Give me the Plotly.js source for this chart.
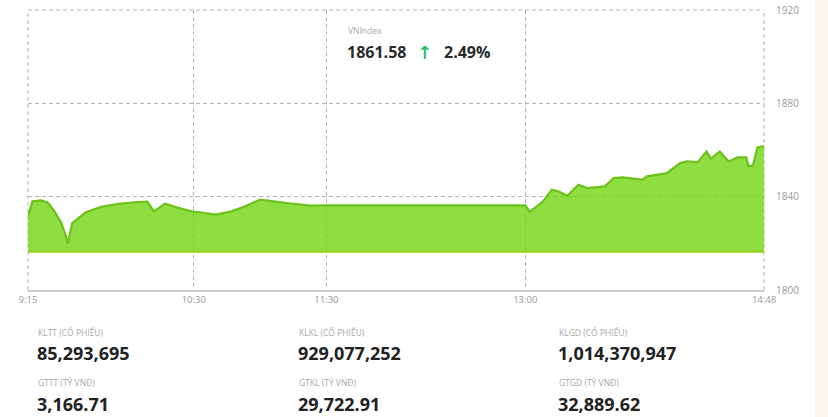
<!DOCTYPE html>
<html>
<head>
<meta charset="utf-8">
<script src="https://cdn.plot.ly/plotly-3.0.1.min.js"></script>
<style>
  html, body { margin: 0; padding: 0; background: #ffffff; }
  #chart { width: 828px; height: 417px; }
</style>
</head>
<body>
<div id="chart"></div>
<script>
// ---- data ----
const sessionDate = '2025-10-10';
const times = ['09:15','09:17','09:21','09:24','09:27','09:30','09:32','09:33','09:35','09:41',
               '09:48','09:56','10:03','10:09','10:12','10:17','10:23','10:29','10:35','10:40',
               '10:47','10:53','11:00','11:05','11:14','11:23','11:30','13:00','13:02','13:08',
               '13:12','13:15','13:19','13:24','13:28','13:36','13:40','13:44','13:53','13:55',
               '14:04','14:10','14:13','14:18','14:22','14:24','14:28','14:32','14:36','14:40',
               '14:41','14:43','14:45','14:47','14:48'];
const values = [1831.5,1838.0,1838.4,1837.4,1833.7,1828.9,1823.7,1819.8,1828.7,1833.2,
                1835.6,1836.9,1837.6,1837.9,1833.7,1837.0,1835.2,1833.7,1833.0,1832.3,
                1833.7,1835.8,1838.7,1838.0,1837.0,1836.2,1836.3,1836.3,1833.5,1838.0,
                1843.0,1842.3,1840.4,1845.1,1843.7,1844.4,1848.0,1848.3,1847.3,1848.7,
                1850.1,1854.4,1855.1,1854.8,1859.4,1856.3,1859.4,1855.1,1856.8,1856.8,
                1853.0,1853.4,1861.1,1861.5,1861.58];
const referenceValue = 1816.4;
const tickTimes = ['09:15','10:30','11:30','13:00','14:48'];
const tickLabels = ['9:15','10:30','11:30','13:00','14:48'];
const yTicks = [1800, 1840, 1880, 1920];
const indexName = 'VNIndex';
const indexValue = '1861.58';
const indexChange = '2.49%';
const statLabels = ['KLTT (CỔ PHIẾU)','KLKL (CỔ PHIẾU)','KLGD (CỔ PHIẾU)',
                    'GTTT (TỶ VNĐ)','GTKL (TỶ VNĐ)','GTGD (TỶ VNĐ)'];
const statValues = ['85,293,695','929,077,252','1,014,370,947',
                    '3,166.71','29,722.91','32,889.62'];

// ---- helpers ----
const toDate = t => sessionDate + ' ' + t + ':00';
const W = 828, H = 417;
const M = {l: 28, r: 64, t: 10, b: 127};
const pw = W - M.l - M.r, ph = H - M.t - M.b;
const px = x => (x - M.l) / pw;
const py = y => (H - M.b - y) / ph;

const xs = times.map(toDate);
const xStart = toDate(tickTimes[0]);
const xEnd = toDate(tickTimes[tickTimes.length - 1]);

const traces = [
  {
    x: [xStart, xEnd], y: [referenceValue, referenceValue],
    type: 'scatter', mode: 'lines',
    line: {color: '#9acd1a', width: 2},
    hoverinfo: 'skip', showlegend: false
  },
  {
    x: xs, y: values,
    type: 'scatter', mode: 'lines',
    fill: 'tonexty', fillcolor: 'rgba(114,213,18,0.8)',
    line: {color: '#6cc21a', width: 2.2, shape: 'linear'},
    showlegend: false
  }
];

const gridColor = '#b4b4b4';
const gridDash = '4px,3px';
const annotations = [];
annotations.push({xref:'paper', yref:'paper', x: px(346), y: py(31), xanchor:'left', yanchor:'middle',
  text: indexName, showarrow:false, font:{family:'Open Sans', size:8.5, color:'#aaaaaa'}});
annotations.push({xref:'paper', yref:'paper', x: px(345), y: py(52), xanchor:'left', yanchor:'middle',
  text: '<b>' + indexValue + '</b>', showarrow:false, font:{family:'Open Sans', size:16, color:'#2a2a2a'}});
annotations.push({xref:'paper', yref:'paper', x: px(415), y: py(52), xanchor:'left', yanchor:'middle',
  text: '<b>↑</b>', showarrow:false, font:{family:'DejaVu Sans', size:18, color:'#2dbf6c'}});
annotations.push({xref:'paper', yref:'paper', x: px(442), y: py(52), xanchor:'left', yanchor:'middle',
  text: '<b>' + indexChange + '</b>', showarrow:false, font:{family:'Open Sans', size:16, color:'#2a2a2a'}});

const colX = [36, 297, 557];
const labelY = [332, 382];
const valueY = [353, 404];
statLabels.forEach((lab, i) => {
  const c = i % 3, r = Math.floor(i / 3);
  annotations.push({xref:'paper', yref:'paper', x: px(colX[c]), y: py(labelY[r]), xanchor:'left', yanchor:'middle',
    text: lab, showarrow:false, font:{family:'Open Sans', size:8.5, color:'#a8a8a8'}});
  annotations.push({xref:'paper', yref:'paper', x: px(colX[c] - 1), y: py(valueY[r]), xanchor:'left', yanchor:'middle',
    text: '<b>' + statValues[i] + '</b>', showarrow:false, font:{family:'Open Sans', size:18, color:'#222222'}});
});

const frameLine = {color: gridColor, width: 1, dash: gridDash};
const layout = {
  width: W, height: H,
  margin: M,
  paper_bgcolor: '#ffffff',
  plot_bgcolor: '#ffffff',
  showlegend: false,
  font: {family: 'Open Sans', color: '#999999'},
  xaxis: {
    type: 'date',
    range: [xStart, xEnd],
    tickmode: 'array',
    tickvals: tickTimes.map(toDate),
    ticktext: tickLabels,
    showgrid: true, gridcolor: gridColor, gridwidth: 1, griddash: gridDash,
    showline: true, linecolor: '#cccccc', linewidth: 1.5,
    zeroline: false,
    ticks: '', tickfont: {size: 9.5, color: '#9a9a9a'},
    fixedrange: true
  },
  yaxis: {
    side: 'right',
    range: [1800, 1920],
    tickmode: 'array',
    tickvals: yTicks,
    ticktext: yTicks.map(String),
    showgrid: true, gridcolor: gridColor, gridwidth: 1, griddash: gridDash,
    zeroline: false, showline: false,
    ticks: '', ticklabelstandoff: 11,
    tickfont: {size: 10, color: '#9a9a9a'},
    fixedrange: true
  },
  shapes: [
    {type:'rect', xref:'paper', yref:'paper', x0: px(815), x1: px(829), y0: py(418), y1: py(-1),
     fillcolor:'#fbf7f0', line:{width:0}, layer:'below'},
    {type:'line', xref:'paper', yref:'paper', x0: 0, x1: 0, y0: 0, y1: 1, line: frameLine, layer:'below'},
    {type:'line', xref:'paper', yref:'paper', x0: 1, x1: 1, y0: 0, y1: 1, line: frameLine, layer:'below'},
    {type:'line', xref:'paper', yref:'paper', x0: 0, x1: 1, y0: 1, y1: 1, line: frameLine, layer:'below'}
  ],
  annotations: annotations
};

Plotly.newPlot('chart', traces, layout, {displayModeBar: false, staticPlot: true});
</script>
</body>
</html>
